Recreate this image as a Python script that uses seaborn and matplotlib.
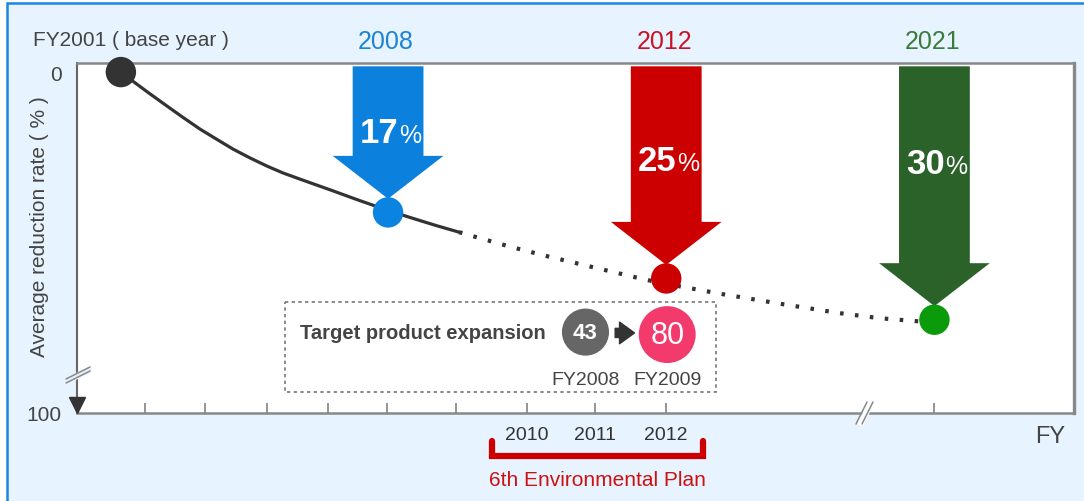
import matplotlib
matplotlib.use("Agg")
import matplotlib.pyplot as plt
from matplotlib.patches import Polygon, Rectangle
from matplotlib.lines import Line2D
import seaborn as sns
import pandas as pd

# --- data ---
# x is a drawing scale (0 = left edge of plot, 100 = right edge); y is reduction in %
milestone_labels = ["FY2001", "2008", "2012", "2021"]
milestone_pos = [4.4, 31.2, 59.1, 86.0]
milestone_reduction = [0, 17, 25, 30]
milestone_colors = ["#333333", "#0A84E0", "#CC0000", "#0A9A0A"]
arrow_colors = ["#0B80DC", "#CC0000", "#2A622A"]
label_colors = ["#1C84D6", "#CC1122", "#3A7A3A"]
percent_labels = ["17", "25", "30"]
percent_text_y = [7.3, 10.7, 11.1]

# trend curve: achieved part (solid) and planned part (dotted)
solid_x = [4.41, 5.32, 7.12, 9.03, 10.63, 12.34, 14.04, 15.65, 17.35, 19.06, 20.66,
           22.37, 24.07, 25.68, 27.08, 28.39, 29.89, 31.29, 33.40, 35.91, 38.31]
solid_y = [0.0, 0.85, 2.46, 4.12, 5.49, 6.91, 8.16, 9.33, 10.40, 11.39, 12.22,
           12.97, 13.70, 14.39, 15.01, 15.58, 16.21, 16.79, 17.61, 18.55, 19.39]
dotted_x = [38.31, 39.72, 43.43, 47.14, 51.55, 55.97, 57.27, 60.38, 64.79, 70.81,
            76.53, 80.54, 84.25, 85.86]
dotted_y = [19.39, 19.88, 21.15, 22.30, 23.58, 24.85, 25.21, 25.94, 26.91, 28.12,
            29.21, 29.82, 30.18, 30.30]

tick_years = [2004, 2005, 2006, 2007, 2008, 2009, 2010, 2011, 2012, 2021]
tick_pos = [6.8, 12.8, 19.1, 25.2, 31.1, 38.0, 45.1, 52.0, 59.1, 86.0]
labelled_years = [2010, 2011, 2012]

product_counts = ["43", "80"]
product_years = ["FY2008", "FY2009"]
product_pos = [51.0, 59.2]

W, H = 1084, 502
AX_L, AX_R, AX_T, AX_B = 77, 1074, 64, 414
Y_TOP, Y_BOTTOM = -1.1, 41.3

sns.set_theme(style="white")
plt.rcParams["font.family"] = ["Liberation Sans", "DejaVu Sans"]

fig = plt.figure(figsize=(W / 100, H / 100), dpi=100, facecolor="white")
# light blue panel with blue frame on left/top
fig.patches.append(Rectangle((7 / W, -0.05), 1.2, 1.05 - 4 / H, transform=fig.transFigure,
                             facecolor="#E7F3FE", edgecolor="#1A86E0", lw=1.8, zorder=-10))

ax = fig.add_axes([AX_L / W, 1 - AX_B / H, (AX_R - AX_L) / W, (AX_B - AX_T) / H])
ax.set_zorder(1)
ax.set_facecolor("white")

# curve
solid = pd.DataFrame({"x": solid_x, "y": solid_y})
dotted = pd.DataFrame({"x": dotted_x, "y": dotted_y})
sns.lineplot(data=solid, x="x", y="y", color="#333333", lw=2.3, ax=ax, zorder=3)
ax.lines[-1].set_solid_joinstyle("round")
sns.lineplot(data=dotted, x="x", y="y", color="#333333", lw=3.0, ax=ax, zorder=3,
             linestyle=(0, (0.85, 2.75)))
ax.lines[-1].set_dash_capstyle("butt")

# arrows
for xc, val, col in zip(milestone_pos[1:], milestone_reduction[1:], arrow_colors):
    tip = val - 1.65
    head = tip - 5.2
    pts = [(xc - 3.55, -0.7), (xc + 3.55, -0.7), (xc + 3.55, head), (xc + 5.55, head),
           (xc, tip), (xc - 5.55, head), (xc - 3.55, head)]
    ax.add_patch(Polygon(pts, closed=True, facecolor=col, edgecolor="none", zorder=4))

for xc, num, ty in zip(milestone_pos[1:], percent_labels, percent_text_y):
    ax.text(xc + 1.0, ty, num, ha="right", va="center", color="white", fontsize=25,
            fontweight="bold", zorder=6)
    ax.text(xc + 1.1, ty + 0.3, "%", ha="left", va="center", color="white", fontsize=18,
            zorder=6)

for xc, lab, col in zip(milestone_pos[1:], milestone_labels[1:], label_colors):
    ax.text(xc - 0.2, -3.8, lab, ha="center", va="center", color=col, fontsize=18,
            clip_on=False)

# milestone dots
pts_df = pd.DataFrame({"x": milestone_pos, "y": milestone_reduction, "label": milestone_labels})
sns.scatterplot(data=pts_df, x="x", y="y", hue="label", palette=milestone_colors, s=480,
                edgecolor="none", legend=False, ax=ax, zorder=7, clip_on=False)

# target product expansion box
ax.add_patch(Rectangle((20.9, 27.9), 43.2, 10.8, facecolor="white", edgecolor="#777777",
                       lw=1.2, linestyle=(0, (2, 2)), zorder=2))
ax.text(22.4, 31.6, "Target product expansion", ha="left", va="center", fontsize=14.5,
        fontweight="bold", color="#444444", zorder=5)
ax.scatter([product_pos[0]], [31.5], s=1150, color="#666666", edgecolor="none", zorder=5)
ax.scatter([product_pos[1]], [31.8], s=1680, color="#F23A6C", edgecolor="none", zorder=5)
ax.text(product_pos[0], 31.5, product_counts[0], ha="center", va="center", color="white",
        fontsize=16, fontweight="bold", zorder=6)
ax.text(product_pos[1], 31.8, product_counts[1], ha="center", va="center", color="white",
        fontsize=22, zorder=6)
ax.annotate("", xy=(56.2, 31.6), xytext=(53.7, 31.6),
            arrowprops=dict(arrowstyle="simple,head_width=1.3,head_length=0.9,tail_width=0.55",
                            color="#333333", mutation_scale=12), zorder=6)
for xc, lab in zip(product_pos, product_years):
    ax.text(xc, 37.2, lab, ha="center", va="center", fontsize=14, color="#444444", zorder=5)

# axes
ax.set_xlim(0, 100)
ax.set_ylim(Y_BOTTOM, Y_TOP)
ax.set_xticks(tick_pos)
ax.set_xticklabels([str(y) if y in labelled_years else "" for y in tick_years],
                   fontsize=14, color="#333333")
ax.set_yticks([0, Y_BOTTOM])
ax.set_yticklabels(["0", "100"], fontsize=15, color="#444444")
ax.tick_params(axis="x", direction="in", length=7.5, width=1.1, color="#777777", pad=9,
               bottom=True)
ax.tick_params(axis="y", length=0, pad=11)
for side, sp in ax.spines.items():
    sp.set_visible(True)
    sp.set_color("#888888")
    sp.set_linewidth(1.8)
ax.spines["left"].set_color("#666666")
ax.spines["left"].set_linewidth(1.5)
ax.spines["right"].set_linewidth(2.4)
ax.set_xlabel("")
ax.set_ylabel("Average reduction rate ( % )", fontsize=15, color="#444444")
ax.yaxis.set_label_coords(-(77 - 49) / 997, 0.535)

# axis breaks, drawn in pixel space of the figure
def px(x, y):
    return x / W, 1 - y / H

def fig_line(xs, ys, **kw):
    fx, fy = zip(*[px(a, b) for a, b in zip(xs, ys)])
    fig.add_artist(Line2D(fx, fy, transform=fig.transFigure, zorder=5, **kw))

fig_line([67, 89], [382, 371], color="#E7F3FE", lw=4.5)
fig_line([66, 90], [384, 372], color="#888888", lw=1.1)
fig_line([66, 90], [380, 368], color="#888888", lw=1.1)
fig_line([861, 871], [424, 404], color="white", lw=4.5)
fig_line([856, 867], [425, 403], color="#888888", lw=1.1)
fig_line([862, 873], [425, 403], color="#888888", lw=1.1)
ax.plot([0], [Y_BOTTOM - 1.0], marker="v", markersize=12, color="#333333", clip_on=False,
        zorder=8)

ax.text(97.6, 44.1, "FY", ha="center", va="center", fontsize=17, color="#444444",
        clip_on=False)
fig.text(33 / W, 1 - 40 / H, "FY2001 ( base year )", ha="left", va="center", fontsize=15,
         color="#444444")

# 6th Environmental Plan bracket
ax.plot([41.6, 41.6, 62.8, 62.8], [44.7, 46.5, 46.5, 44.7], color="#CC0000", lw=4.5,
        clip_on=False, solid_joinstyle="miter")
ax.text(52.2, 49.3, "6th Environmental Plan", ha="center", va="center", fontsize=15,
        color="#CC1111", clip_on=False)

fig.savefig("out.png", dpi=100, facecolor=fig.get_facecolor())
